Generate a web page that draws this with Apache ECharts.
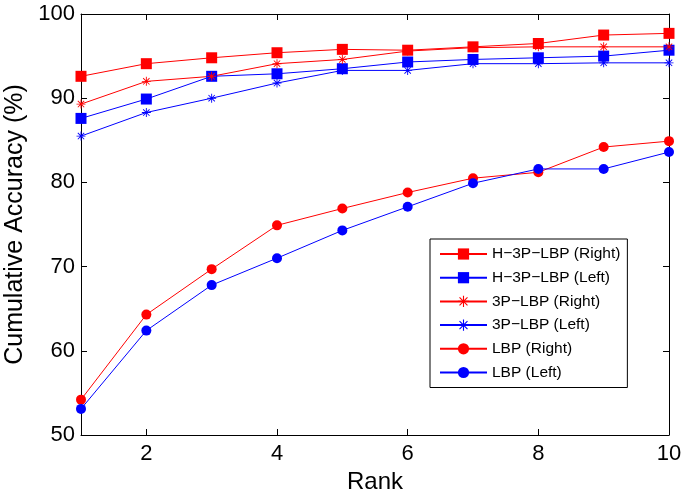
<!DOCTYPE html>
<html>
<head>
<meta charset="utf-8">
<script src="https://cdn.jsdelivr.net/npm/echarts@6/dist/echarts.min.js"></script>
<style>
  html, body { margin: 0; padding: 0; background: #fff; }
  #chart { width: 685px; height: 493px; }
</style>
</head>
<body>
<div id="chart"></div>
<script>
// 横坐标 Rank
const ranks = [1, 2, 3, 4, 5, 6, 7, 8, 9, 10];
const xTicks = [2, 4, 6, 8, 10];

// 各方法的累计准确率 (%)
const h3pRight = [92.6, 94.1, 94.8, 95.4, 95.8, 95.7, 96.1, 96.5, 97.5, 97.7];
const h3pLeft = [87.6, 89.9, 92.6, 92.9, 93.5, 94.3, 94.6, 94.8, 95.0, 95.7];
const p3Right = [89.3, 92.0, 92.6, 94.1, 94.6, 95.6, 96.0, 96.1, 96.1, 96.1];
const p3Left = [85.5, 88.3, 90.0, 91.8, 93.3, 93.3, 94.1, 94.1, 94.2, 94.2];
const lbpRight = [54.2, 64.3, 69.7, 74.9, 76.9, 78.8, 80.5, 81.2, 84.2, 84.9];
const lbpLeft = [53.1, 62.4, 67.8, 71.0, 74.3, 77.1, 79.9, 81.6, 81.6, 83.6];

// 星号标记 (+ 与 x 叠加)
const star = 'path://M0,9 L20,9 L20,11 L0,11 Z M9,0 L11,0 L11,20 L9,20 Z ' +
  'M3.6,2.2 L17.8,16.4 L16.4,17.8 L2.2,3.6 Z M16.4,2.2 L17.8,3.6 L3.6,17.8 L2.2,16.4 Z';

const font = 'Liberation Sans';

function makeSeries(name, data, color, symbol, size) {
  return {
    name: name,
    type: 'line',
    data: ranks.map((r, i) => [r, data[i]]),
    symbol: symbol,
    symbolSize: size,
    lineStyle: { color: color, width: 1 },
    itemStyle: { color: color },
    emphasis: { disabled: true },
    animation: false
  };
}

const chart = echarts.init(document.getElementById('chart'));
chart.setOption({
  animation: false,
  grid: { left: 81, right: 16, top: 14, bottom: 58, outerBoundsMode: 'none' },
  legend: {
    orient: 'vertical',
    left: 430,
    top: 239,
    padding: [7, 7, 7, 9],
    itemWidth: 47,
    itemHeight: 14,
    itemGap: 7.7,
    borderColor: '#000',
    borderWidth: 1,
    backgroundColor: '#fff',
    textStyle: { fontFamily: font, fontSize: 15.5, color: '#000' },
    data: ['H−3P−LBP (Right)', 'H−3P−LBP (Left)', '3P−LBP (Right)', '3P−LBP (Left)', 'LBP (Right)', 'LBP (Left)']
  },
  xAxis: [{
    type: 'value', min: 1, max: 10,
    name: 'Rank', nameLocation: 'middle', nameGap: 33,
    nameTextStyle: { fontFamily: font, fontSize: 24, color: '#000' },
    axisLine: { lineStyle: { color: '#000', width: 1 } },
    axisTick: { inside: true, length: 6, customValues: xTicks, lineStyle: { color: '#000' } },
    axisLabel: { customValues: xTicks, fontFamily: font, fontSize: 22, color: '#000', margin: 8 },
    splitLine: { show: false }
  }, {
    type: 'value', min: 1, max: 10, position: 'top',
    axisLine: { show: true, lineStyle: { color: '#000', width: 1 } },
    axisTick: { inside: true, length: 6, customValues: xTicks, lineStyle: { color: '#000' } },
    axisLabel: { show: false },
    splitLine: { show: false }
  }],
  yAxis: [{
    type: 'value', min: 50, max: 100, interval: 10,
    name: 'Cumulative Accuracy (%)', nameLocation: 'middle', nameGap: 43,
    nameTextStyle: { fontFamily: font, fontSize: 25, color: '#000' },
    axisLine: { show: true, lineStyle: { color: '#000', width: 1 } },
    axisTick: { inside: true, length: 6, lineStyle: { color: '#000' } },
    axisLabel: { fontFamily: font, fontSize: 22, color: '#000', margin: 6 },
    splitLine: { show: false }
  }, {
    type: 'value', min: 50, max: 100, interval: 10, position: 'right',
    axisLine: { show: true, lineStyle: { color: '#000', width: 1 } },
    axisTick: { inside: true, length: 6, lineStyle: { color: '#000' } },
    axisLabel: { show: false },
    splitLine: { show: false }
  }],
  series: [
    makeSeries('H−3P−LBP (Right)', h3pRight, '#ff0000', 'rect', 11),
    makeSeries('H−3P−LBP (Left)', h3pLeft, '#0000ff', 'rect', 11),
    makeSeries('3P−LBP (Right)', p3Right, '#ff0000', star, 9),
    makeSeries('3P−LBP (Left)', p3Left, '#0000ff', star, 9),
    makeSeries('LBP (Right)', lbpRight, '#ff0000', 'circle', 10),
    makeSeries('LBP (Left)', lbpLeft, '#0000ff', 'circle', 10)
  ]
});
</script>
</body>
</html>
